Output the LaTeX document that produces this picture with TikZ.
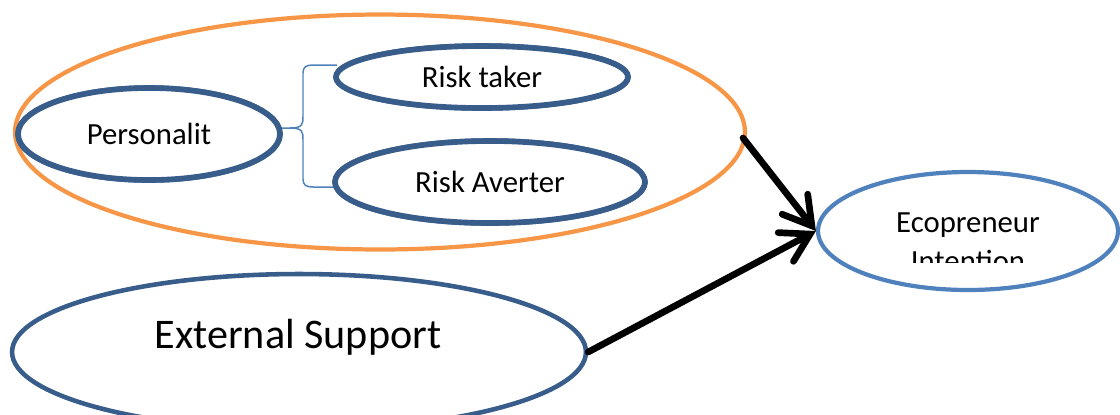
\documentclass[tikz,border=0pt]{standalone}
\usepackage{fontspec}
\setmainfont{Carlito}
\usepackage{xcolor}
\usepackage{tikz}
\usetikzlibrary{shapes.geometric,calc,arrows.meta}
\definecolor{darkblue}{HTML}{385D8A}
\definecolor{midblue}{HTML}{4F81BD}
\definecolor{orangeline}{HTML}{F79646}
\newcommand{\smalltext}{\fontsize{17.5}{22}\selectfont}
\newcommand{\bigtext}{\fontsize{24}{29}\selectfont}

\begin{document}
\begin{tikzpicture}[x=0.02cm, y=-0.02cm,
        oval/.style={ellipse, draw=darkblue, line width=3.2pt, inner sep=0pt, fill=white},
        link/.style={line width=3.8pt, black, line cap=round, -{Straight Barb[length=5.5mm,width=6.5mm,line cap=round]}}]
        \useasboundingbox (0,0) rectangle (1120,414);
        \clip (0,0) rectangle (1120,414);
          % group
          \node[ellipse, draw=orangeline, line width=2.4pt, inner sep=0pt,
                minimum width=14.6cm, minimum height=4.7cm] (group) at (380,132) {};
          % bracket
          \node[oval, minimum width=5.24cm, minimum height=1.84cm] (pers) at (149,134) {};
          \node[oval, minimum width=5.84cm, minimum height=1.24cm] (riskt) at (482,77) {};
          \node[oval, minimum width=6.2cm, minimum height=1.64cm] (riska) at (490,182) {};
          \coordinate (brin) at ($(pers.east)+(-12,-6)$);
          \coordinate (brmid) at (290,128);
          \coordinate (brtop) at ($(riskt.west)+(4,-12)$);
          \coordinate (brbot) at ($(riska.west)+(4,5)$);
          \draw[midblue, line width=0.85pt] (brin) -- (brmid)
                .. controls (303,128) and (303,124) .. (303,116) -- (303,73)
                .. controls (303,67) and (306,65) .. (313,65) -- (brtop);
          \draw[midblue, line width=0.85pt] (brmid)
                .. controls (303,128) and (303,132) .. (303,140) -- (303,179)
                .. controls (303,185) and (306,187) .. (313,187) -- (brbot);
          % ovals on top of the bracket
          \node[oval, minimum width=5.24cm, minimum height=1.84cm, font=\smalltext] (pers) at (149,134) {Personalit};
          \node[oval, minimum width=5.84cm, minimum height=1.24cm, font=\smalltext] (riskt) at (482,77) {Risk taker};
          \node[oval, minimum width=6.2cm, minimum height=1.64cm, font=\smalltext] (riska) at (490,182) {Risk Averter};
          % outcome
          \node[ellipse, draw=midblue, line width=2.4pt, inner sep=0pt,
                minimum width=6cm, minimum height=2.36cm] (eco) at (968,231) {};
          \begin{scope}
            \clip (820,150) rectangle (1120,262);
            \node[font=\smalltext, align=center, anchor=north] (ecolabel) at (968,207) {Ecopreneur\\Intention};
          \end{scope}
          % support
          \node[oval, line width=2.6pt, minimum width=11.48cm, minimum height=3.12cm] (ext) at (299,352) {};
          \node[font=\bigtext] (extlabel) at (298,337) {External Support};
          % arrows
          \draw[link] ($(group.east)+(-4,6)$) -- (eco.west);
          \draw[link] (ext.east) -- (eco.west);
\end{tikzpicture}
\end{document}
